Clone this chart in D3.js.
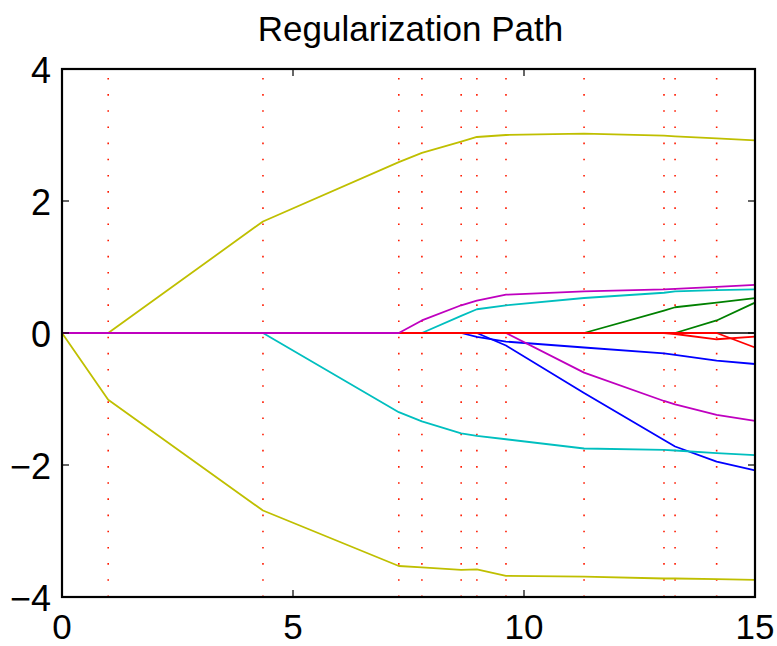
<!DOCTYPE html>
<html>
<head>
<meta charset="utf-8">
<script src="https://cdn.jsdelivr.net/npm/d3@7"></script>
<style>
  html, body { margin: 0; padding: 0; background: #fff; }
  svg { display: block; }
  text { font-family: "Liberation Sans", Arial, Helvetica, sans-serif; fill: #000; }
</style>
</head>
<body>
<svg id="chart" width="777" height="646"></svg>
<script>
// Knots of the regularization path (x positions where the active set changes)
const breaks = [0, 1.00, 4.35, 7.29, 7.79, 8.64, 8.98, 9.61, 11.30, 13.03, 13.27, 14.17, 15];

// Coefficient values at each knot, one array per coefficient (plot order)
const coefBlueA    = [0, 0, 0, 0, 0, 0, -0.06, -0.13, -0.22, -0.31, -0.33, -0.42, -0.47];
const coefGreenA   = [0, 0, 0, 0, 0, 0, 0, 0, 0, 0.34, 0.39, 0.46, 0.53];
const coefRedA     = [0, 0, 0, 0, 0, 0, 0, 0, 0, 0, -0.015, -0.095, -0.055];
const coefCyanA    = [0, 0, 0, 0, 0, 0.26, 0.36, 0.42, 0.53, 0.61, 0.63, 0.65, 0.66];
const coefMagentaA = [0, 0, 0, 0, 0, 0, 0, 0, -0.60, -1.03, -1.08, -1.24, -1.33];
const coefYellowA  = [0, 0, 1.69, 2.59, 2.73, 2.90, 2.97, 3.00, 3.02, 2.99, 2.98, 2.95, 2.92];
const coefGray     = [0, 0, 0, 0, 0, 0, 0, 0, 0, 0, 0, 0, 0];
const coefBlueB    = [0, 0, 0, 0, 0, 0, 0, -0.19, -0.91, -1.62, -1.72, -1.95, -2.08];
const coefGreenB   = [0, 0, 0, 0, 0, 0, 0, 0, 0, 0, 0, 0.19, 0.46];
const coefRedB     = [0, 0, 0, 0, 0, 0, 0, 0, 0, 0, 0, 0, -0.22];
const coefCyanB    = [0, 0, 0, -1.20, -1.34, -1.52, -1.56, -1.61, -1.75, -1.77, -1.78, -1.82, -1.85];
const coefMagentaB = [0, 0, 0, 0, 0.19, 0.42, 0.49, 0.58, 0.63, 0.66, 0.67, 0.70, 0.73];
const coefYellowB  = [0, -1.01, -2.69, -3.53, -3.55, -3.59, -3.58, -3.68, -3.69, -3.72, -3.72, -3.73, -3.74];

const seriesList = [coefBlueA, coefGreenA, coefRedA, coefCyanA, coefMagentaA, coefYellowA, coefGray,
                    coefBlueB, coefGreenB, coefRedB, coefCyanB, coefMagentaB, coefYellowB];
// Classic seven-colour line order
const colorOrder = ["#0000ff", "#008000", "#ff0000", "#00bfbf", "#bf00bf", "#bfbf00", "#404040"];

const xTicks = [0, 5, 10, 15];
const yTicks = [-4, -2, 0, 2, 4];
const titleText = "Regularization Path";

const svg = d3.select("#chart");
const m = { left: 62, right: 755, top: 69, bottom: 597 };

const x = d3.scaleLinear().domain([0, 15]).range([m.left, m.right]);
const y = d3.scaleLinear().domain([-4, 4]).range([m.bottom, m.top]);

// Dotted vertical markers at each knot
const dotPeriod = (m.bottom - m.top) / 32.65;
svg.append("g")
  .selectAll("line")
  .data(breaks)
  .join("line")
  .attr("x1", d => x(d)).attr("x2", d => x(d))
  .attr("y1", y(-4)).attr("y2", y(4))
  .attr("stroke", "#ff1a00")
  .attr("stroke-width", 1.6)
  .attr("stroke-dasharray", `1.6 ${dotPeriod - 1.6}`);

// Coefficient paths
const line = d3.line()
  .x((d, i) => x(breaks[i]))
  .y(d => y(d));

svg.append("g")
  .selectAll("path")
  .data(seriesList)
  .join("path")
  .attr("d", d => line(d))
  .attr("fill", "none")
  .attr("stroke", (d, i) => colorOrder[i % colorOrder.length])
  .attr("stroke-width", 1.8)
  .attr("stroke-linejoin", "round");

// Box axes with inward ticks
const tickLen = 7;
const axes = svg.append("g").attr("stroke", "#000").attr("stroke-width", 1.2);
xTicks.forEach(t => {
  axes.append("line").attr("x1", x(t)).attr("x2", x(t)).attr("y1", y(-4)).attr("y2", y(-4) - tickLen);
  axes.append("line").attr("x1", x(t)).attr("x2", x(t)).attr("y1", y(4)).attr("y2", y(4) + tickLen);
});
yTicks.forEach(t => {
  axes.append("line").attr("x1", x(0)).attr("x2", x(0) + tickLen).attr("y1", y(t)).attr("y2", y(t));
  axes.append("line").attr("x1", x(15)).attr("x2", x(15) - tickLen).attr("y1", y(t)).attr("y2", y(t));
});

svg.append("rect")
  .attr("x", m.left).attr("y", m.top)
  .attr("width", m.right - m.left).attr("height", m.bottom - m.top)
  .attr("fill", "none").attr("stroke", "#000").attr("stroke-width", 2.2);

// Tick labels
const fmt = d => (d < 0 ? "\u2212" + Math.abs(d) : String(d));
svg.append("g")
  .selectAll("text")
  .data(xTicks)
  .join("text")
  .attr("x", d => x(d))
  .attr("y", 639)
  .attr("text-anchor", "middle")
  .attr("font-size", 35)
  .text(fmt);

svg.append("g")
  .selectAll("text")
  .data(yTicks)
  .join("text")
  .attr("x", 51)
  .attr("y", d => y(d) + 14)
  .attr("text-anchor", "end")
  .attr("font-size", 36)
  .text(fmt);

// Title
svg.append("text")
  .attr("x", (m.left + m.right) / 2 + 2)
  .attr("y", 41)
  .attr("text-anchor", "middle")
  .attr("font-size", 35)
  .text(titleText);
</script>
</body>
</html>
